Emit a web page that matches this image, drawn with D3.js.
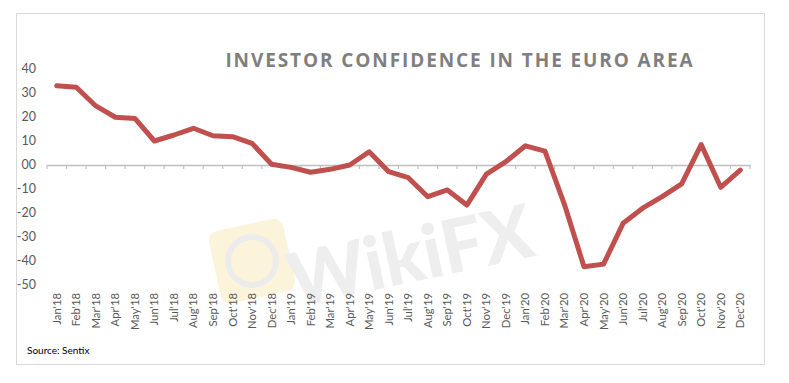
<!DOCTYPE html>
<html><head><meta charset="utf-8">
<script src="https://cdn.jsdelivr.net/npm/d3@7"></script>
<style>html,body{margin:0;padding:0;background:#fff;}</style>
</head><body>
<svg id="c" width="789" height="383"></svg>
<script>
const categories = ["Jan'18","Feb'18","Mar'18","Apr'18","May'18","Jun'18","Jul'18","Aug'18","Sep'18","Oct'18","Nov'18","Dec'18",
"Jan'19","Feb'19","Mar'19","Apr'19","May'19","Jun'19","Jul'19","Aug'19","Sep'19","Oct'19","Nov'19","Dec'19",
"Jan'20","Feb'20","Mar'20","Apr'20","May'20","Jun'20","Jul'20","Aug'20","Sep'20","Oct'20","Nov'20","Dec'20"];
const values = [33.0,32.4,24.6,19.9,19.4,10.0,12.5,15.3,12.2,11.8,9.0,0.3,
-1.0,-3.0,-1.8,0.0,5.5,-2.8,-5.3,-13.2,-10.4,-16.7,-3.8,1.4,
8.0,5.8,-16.5,-42.4,-41.3,-24.3,-18.0,-13.2,-7.9,8.5,-9.3,-2.1];
const yTicks = [40,30,20,10,0,-10,-20,-30,-40,-50];
const yTickLabels = ["40","30","20","10","00","-10","-20","-30","-40","-50"];
const title = "INVESTOR CONFIDENCE IN THE EURO AREA";
const source = "Source: Sentix";

const svg = d3.select("#c");
// chart frame
svg.append("rect").attr("x",16.5).attr("y",13.5).attr("width",748).attr("height",351)
  .attr("fill","#fff").attr("stroke","#d9d9d9").attr("stroke-width",1);

const x = d3.scaleBand().domain(categories).range([47,750]);
const y = d3.scaleLinear().domain([-50,40]).range([285,69]);

// watermark
const wm = svg.append("g");
wm.append("rect").attr("x",214).attr("y",224).attr("width",76).attr("height",74).attr("rx",10)
  .attr("fill","#fcf4da").attr("transform","rotate(-12,252,261)");
wm.append("circle").attr("cx",252).attr("cy",261).attr("r",24).attr("fill","none")
  .attr("stroke","#ececec").attr("stroke-width",6);
wm.append("text").attr("x",410).attr("y",282).attr("text-anchor","middle")
  .attr("font-family","Lato, 'Open Sans', sans-serif").attr("font-weight",900).attr("font-size",74)
  .attr("fill","#eeeeee").attr("transform","rotate(-12,410,255)").text("WikiFX");

// title
svg.append("text").attr("x",460).attr("y",67).attr("text-anchor","middle")
  .attr("font-family","'Open Sans', sans-serif").attr("font-weight",700).attr("font-size",19)
  .attr("letter-spacing",1.9).attr("fill","#7f7f7f").text(title);

// y labels
svg.append("g").selectAll("text").data(yTicks).join("text")
  .attr("x",36).attr("y",d=>y(d)).attr("dy","0.35em").attr("text-anchor","end")
  .attr("font-family","Lato, sans-serif").attr("font-size",12.5).attr("fill","#595959")
  .text((d,i)=>yTickLabels[i]);

// zero axis line with ticks
const ax = svg.append("g").attr("transform",`translate(0,${y(0)})`)
  .call(d3.axisBottom(x).tickValues([]).tickSizeOuter(0));
ax.select(".domain").attr("stroke","#bfbfbf").attr("stroke-width",1.5);
const tickPos = categories.map(c=>x(c)).concat([x.range()[1]]);
ax.selectAll("line.tk").data(tickPos).join("line").attr("class","tk")
  .attr("x1",d=>d).attr("x2",d=>d).attr("y1",0).attr("y2",4)
  .attr("stroke","#bfbfbf").attr("stroke-width",1.2);

// x labels rotated
svg.append("g").selectAll("text").data(categories).join("text")
  .attr("transform",d=>`translate(${x(d)+x.bandwidth()/2+4},293) rotate(-90)`)
  .attr("text-anchor","end")
  .attr("font-family","Lato, sans-serif").attr("font-size",11.3).attr("fill","#595959")
  .text(d=>d);

// line
const line = d3.line().x((d,i)=>x(categories[i])+x.bandwidth()/2).y(d=>y(d));
svg.append("path").datum(values).attr("d",line).attr("fill","none")
  .attr("stroke","#c0504d").attr("stroke-width",5).attr("stroke-linejoin","round").attr("stroke-linecap","round");

// source
svg.append("text").attr("x",27).attr("y",354)
  .attr("font-family","Lato, sans-serif").attr("font-size",10).attr("fill","#000").text(source);
</script>
</body></html>
